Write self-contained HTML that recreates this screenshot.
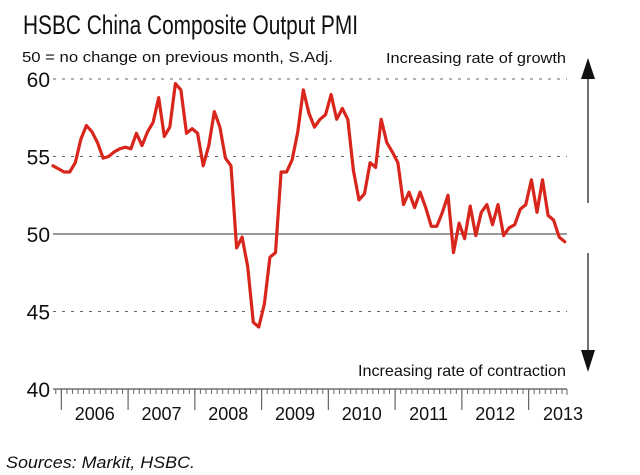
<!DOCTYPE html>
<html><head><meta charset="utf-8"><style>
html,body{margin:0;padding:0;background:#fff;}
svg{display:block;font-family:"Liberation Sans",Arial,sans-serif;}
</style></head><body>
<svg id="chart" width="640" height="475" viewBox="0 0 640 475" xmlns="http://www.w3.org/2000/svg">
<text x="23" y="34" font-size="27" textLength="335" lengthAdjust="spacingAndGlyphs" fill="#111">HSBC China Composite Output PMI</text>
<text x="22" y="62" font-size="15" textLength="311" lengthAdjust="spacingAndGlyphs" fill="#111">50 = no change on previous month, S.Adj.</text>
<text x="386" y="63" font-size="15" textLength="180" lengthAdjust="spacingAndGlyphs" fill="#111">Increasing rate of growth</text>
<text x="358" y="376" font-size="16" textLength="208" lengthAdjust="spacingAndGlyphs" fill="#111">Increasing rate of contraction</text>
<g>
<line x1="588" y1="72" x2="588" y2="203" stroke="#222" stroke-width="1.3"/>
<polygon points="581,79 595,79 588,58" fill="#111"/>
</g>
<g>
<line x1="588" y1="253" x2="588" y2="365" stroke="#222" stroke-width="1.3"/>
<polygon points="581,350 595,350 588,372" fill="#111"/>
</g>
<g id="grid"></g>
<g id="axes"></g>
<g id="series"></g>
<text x="6" y="468" font-size="17" font-style="italic" textLength="189" lengthAdjust="spacingAndGlyphs" fill="#111">Sources: Markit, HSBC.</text>
</svg>
<script>
// Data: monthly PMI, index 0 = Nov 2005
const values = [54.4,54.2,54.0,54.0,54.6,56.1,57.0,56.6,55.9,54.9,55.0,55.3,55.5,55.6,55.5,56.5,55.7,56.6,57.2,58.8,56.3,56.9,59.7,59.3,56.5,56.8,56.5,54.4,55.7,57.9,56.9,54.9,54.4,49.1,49.8,47.9,44.3,44.0,45.5,48.5,48.8,54.0,54.0,54.8,56.6,59.3,57.8,56.9,57.4,57.7,59.0,57.4,58.1,57.4,54.1,52.2,52.6,54.6,54.3,57.4,55.9,55.3,54.6,51.9,52.7,51.7,52.7,51.7,50.5,50.5,51.4,52.5,48.8,50.7,49.7,51.8,49.9,51.4,51.9,50.6,51.9,49.9,50.4,50.6,51.6,51.9,53.5,51.4,53.5,51.2,50.9,49.8,49.5];
const yTicks = [40,45,50,55,60];
const yearLabels = ["2006","2007","2008","2009","2010","2011","2012","2013"];
const yearStartIdx = [2,14,26,38,50,62,74,86];

const X0=53, X1=567, NPTS=93;
const STEP=(X1-X0)/(NPTS-0.6);
function xs(i){return X0+i*STEP;}
function ys(v){return 389-(v-40)*15.5;}
const NS="http://www.w3.org/2000/svg";
function mk(tag,attrs,parent){const e=document.createElementNS(NS,tag);for(const k in attrs)e.setAttribute(k,attrs[k]);parent.appendChild(e);return e;}
const grid=document.getElementById('grid'), axes=document.getElementById('axes'), series=document.getElementById('series');

yTicks.forEach(t=>{
  if(t>40){
    const ln=mk('line',{x1:X0,x2:X1,y1:ys(t),y2:ys(t),stroke:t===50?'#333':'#666','stroke-width':1,'stroke-dasharray':t===50?'':'3,6'},grid);
    
    
  }
  const tx=mk('text',{x:50,y:ys(t)+8,'font-size':21,'text-anchor':'end',fill:'#111'},axes);
  tx.textContent=String(t);
  
  
});

const ax=mk('line',{x1:X0,x2:X1,y1:389,y2:389,stroke:'#555','stroke-width':1.2},axes);


for(let i=0;i<NPTS;i++){
  const x=xs(i)-STEP/2;
  if(x<X0)continue;
  const tk=mk('line',{x1:x,x2:x,y1:389,y2:394,stroke:'#666','stroke-width':1},axes);
  
  
}
const endTk=mk('line',{x1:X1,x2:X1,y1:389,y2:395,stroke:'#666','stroke-width':1},axes);


yearLabels.forEach((lab,k)=>{
  const bx=xs(yearStartIdx[k])-STEP/2;
  const mt=mk('line',{x1:bx,x2:bx,y1:389,y2:410,stroke:'#666','stroke-width':1.2},axes);
  
  
  const nx=k+1<yearStartIdx.length?xs(yearStartIdx[k+1])-STEP/2:bx+67;
  const cx=Math.min((bx+nx)/2, 562);
  const tx=mk('text',{x:k===7?563:cx,y:420,'font-size':18,'text-anchor':'middle',fill:'#111'},axes);
  tx.textContent=lab;
  
  
});

const pts=values.map((v,i)=>xs(i).toFixed(1)+','+ys(v).toFixed(1)).join(' ');
const pl=mk('polyline',{points:pts,fill:'none',stroke:'#d9261c','stroke-width':3.2,'stroke-linejoin':'round','stroke-linecap':'round'},series);


</script>
</body></html>
